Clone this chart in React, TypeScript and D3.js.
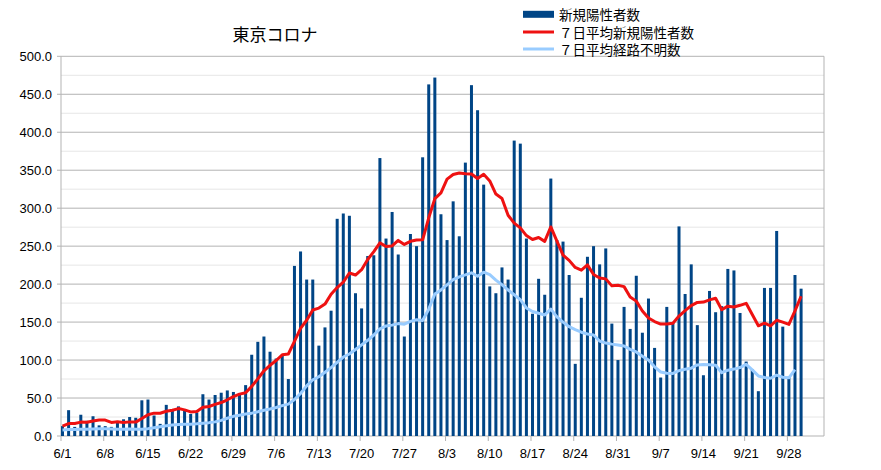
import * as d3 from "d3";

// 2020-06-01 .. 2020-10-03 on the category axis, data runs to 9/30
const firstDay = new Date(2020, 5, 1);
const lastDay = new Date(2020, 9, 4);

const tickLabels = ["6/1", "6/8", "6/15", "6/22", "6/29", "7/6", "7/13", "7/20", "7/27", "8/3", "8/10", "8/17", "8/24", "8/31", "9/7", "9/14", "9/21", "9/28"];
const yTicks = [0, 50, 100, 150, 200, 250, 300, 350, 400, 450, 500];
const yMinor = [25, 75, 125, 175, 225, 275, 325, 375, 425, 475];

// 新規陽性者数
const newCases = [
  13, 34, 12, 28, 20, 26, 14, 13, 12, 18, 22, 25, 24, 47, 48, 27, 16, 41, 35, 39, 35, 29, 31, 55, 48, 54, 57, 60, 58, 54,
  67, 107, 124, 131, 111, 102, 106, 75, 224, 243, 206, 206, 119, 143, 165, 286, 293, 290, 188, 168, 237, 238, 366, 260, 295, 239, 131, 266, 250, 367, 463,
  472, 292, 258, 309, 263, 360, 462, 429, 331, 197, 188, 222, 206, 389, 385, 260, 161, 207, 186, 339, 258, 256, 212, 95, 182, 236, 250, 226, 247, 148, 100,
  170, 141, 211, 136, 181, 116, 77, 170, 149, 276, 187, 226, 146, 80, 191, 163, 171, 220, 218, 162, 98, 88, 59, 195, 195, 270, 144, 78, 212, 194,
];

// ７日平均新規陽性者数
const avgNew = [
  12.9, 16.3, 16.4, 18.3, 18.0, 19.7, 21.0, 21.0, 17.9, 18.7, 17.9, 18.6, 18.3, 23.0, 28.0, 30.1, 29.9, 32.6, 34.0, 36.1, 34.4, 31.7, 32.3, 37.9, 38.9, 41.6, 44.1, 47.7, 51.9, 55.1,
  56.9, 65.3, 75.3, 85.9, 93.1, 99.4, 106.9, 108.0, 124.7, 141.7, 152.4, 166.0, 168.4, 173.7, 186.6, 195.4, 202.6, 214.6, 212.0, 219.0, 232.4, 242.9, 254.3, 249.6, 250.3, 257.6, 252.3, 256.4, 258.1, 258.3, 287.3,
  312.6, 320.1, 338.3, 344.4, 346.3, 345.3, 345.1, 339.0, 344.6, 335.9, 318.6, 312.7, 290.7, 280.3, 274.0, 263.9, 258.7, 261.4, 256.3, 275.3, 256.6, 238.1, 231.3, 221.9, 218.3, 225.4, 212.7, 208.1, 206.9, 197.7, 198.4,
  196.7, 183.1, 177.6, 164.7, 155.3, 150.7, 147.4, 147.4, 148.6, 157.9, 165.1, 171.6, 175.9, 176.3, 179.3, 181.3, 166.3, 171.0, 169.9, 172.1, 174.7, 160.0, 145.1, 148.6, 145.0, 152.4, 149.9, 147.0, 164.7, 184.0,
];

// ７日平均経路不明数 (to 9/29)
const avgUnknown = [
  7.9, 8.4, 8.6, 8.9, 9.0, 9.3, 9.4, 9.6, 9.3, 9.0, 9.0, 9.1, 8.9, 9.0, 9.7, 11.0, 12.3, 13.4, 14.4, 15.1, 15.4, 15.6, 16.0, 16.9, 17.6, 18.6, 20.6, 23.4, 25.9, 27.4,
  28.9, 30.1, 31.9, 33.9, 35.6, 37.6, 40.0, 42.0, 48.0, 56.0, 66.0, 74.0, 78.0, 84.0, 90.0, 97.0, 104.0, 108.0, 114.0, 120.0, 126.0, 133.0, 141.0, 145.0, 146.0, 148.0, 147.3, 151.0, 153.0, 152.0, 167.0,
  187.0, 192.4, 199.0, 205.9, 209.6, 212.1, 214.9, 210.4, 215.7, 212.4, 205.3, 199.1, 192.3, 186.0, 179.6, 168.6, 164.0, 161.6, 159.4, 167.1, 156.9, 150.0, 143.9, 140.0, 136.7, 134.4, 133.0, 125.1, 122.4, 121.0, 119.9,
  118.6, 114.1, 110.7, 105.1, 100.0, 91.1, 84.3, 82.6, 82.4, 86.1, 88.0, 89.3, 93.6, 94.3, 93.9, 93.3, 83.3, 86.7, 88.1, 90.1, 94.4, 87.1, 79.1, 77.0, 76.0, 80.1, 77.4, 76.6, 87.4,
];

const legendItems = [
  { label: "新規陽性者数", color: "#004586", kind: "bar" },
  { label: "７日平均新規陽性者数", color: "#ee1111", kind: "line" },
  { label: "７日平均経路不明数", color: "#99ccff", kind: "line" },
];

const width = 881;
const height = 470;
const plot = { left: 61, right: 824, top: 56.3, bottom: 436 };

const fmt = d3.timeFormat("%-m/%-d");
const days = d3.timeDay.range(firstDay, lastDay).map((d) => fmt(d));

export default function App() {
  const x = d3.scaleBand<string>().domain(days).range([plot.left, plot.right]);
  const y = d3.scaleLinear().domain([0, 500]).range([plot.bottom, plot.top]);
  const mid = (i: number) => (x(days[i]) ?? 0) + 1.5;

  const line = d3
    .line<number>()
    .x((_, i) => mid(i))
    .y((d) => y(d));

  const labelFont = "'Liberation Sans', Arial, sans-serif";
  const cjkFont = "'Noto Sans CJK JP', sans-serif";

  return (
    <svg
      width={width}
      height={height}
      style={{ position: "absolute", left: 0, top: 0, background: "#fff" }}
    >
      {/* minor grid */}
      {yMinor.map((v) => (
        <line key={"m" + v} x1={plot.left} x2={plot.right} y1={y(v)} y2={y(v)} stroke="#e6e6e6" strokeWidth={1} />
      ))}
      {/* major grid */}
      {yTicks.map((v) => (
        <line key={"g" + v} x1={plot.left - 4} x2={plot.right} y1={y(v)} y2={y(v)} stroke="#b3b3b3" strokeWidth={1} />
      ))}
      <line x1={plot.left} x2={plot.left} y1={plot.top} y2={plot.bottom} stroke="#b3b3b3" />
      <line x1={plot.right} x2={plot.right} y1={plot.top} y2={plot.bottom} stroke="#b3b3b3" />

      {/* y labels */}
      {yTicks.map((v) => (
        <text
          key={"yl" + v}
          x={52}
          y={y(v)}
          dy="0.35em"
          textAnchor="end"
          fontFamily={labelFont}
          fontSize={13}
          fill="#000"
        >
          {v.toFixed(1)}
        </text>
      ))}

      {/* bars */}
      {newCases.map((v, i) => (
        <rect key={"b" + i} x={mid(i) - 1.5} y={y(v)} width={3} height={plot.bottom - y(v)} fill="#004586" />
      ))}

      {/* x ticks and labels */}
      {tickLabels.map((t) => {
        const tx = x(t) ?? 0;
        return (
          <g key={"t" + t}>
            <line x1={tx} x2={tx} y1={plot.bottom} y2={plot.bottom + 5} stroke="#b3b3b3" />
            <text x={tx + 1.5} y={458} textAnchor="middle" fontFamily={labelFont} fontSize={13} fill="#000">
              {t}
            </text>
          </g>
        );
      })}

      {/* lines */}
      <path d={line(avgUnknown) ?? ""} fill="none" stroke="#99ccff" strokeWidth={3} strokeLinejoin="round" />
      <path d={line(avgNew) ?? ""} fill="none" stroke="#ee1111" strokeWidth={3} strokeLinejoin="round" />

      {/* title */}
      <text x={275} y={33.5} dominantBaseline="central" textAnchor="middle" fontFamily={cjkFont} fontSize={17} fill="#000">
        東京コロナ
      </text>

      {/* legend */}
      {legendItems.map((item, i) => {
        const ly = [14.3, 32, 49][i];
        return (
          <g key={"lg" + i}>
            {item.kind === "bar" ? (
              <rect x={523} y={ly - 3.5} width={31} height={7} fill={item.color} />
            ) : (
              <line x1={523} x2={554} y1={ly} y2={ly} stroke={item.color} strokeWidth={3} />
            )}
            <text x={559} y={ly} dominantBaseline="central" fontFamily={cjkFont} fontSize={13.5} fill="#000">
              {item.label}
            </text>
          </g>
        );
      })}
    </svg>
  );
}
